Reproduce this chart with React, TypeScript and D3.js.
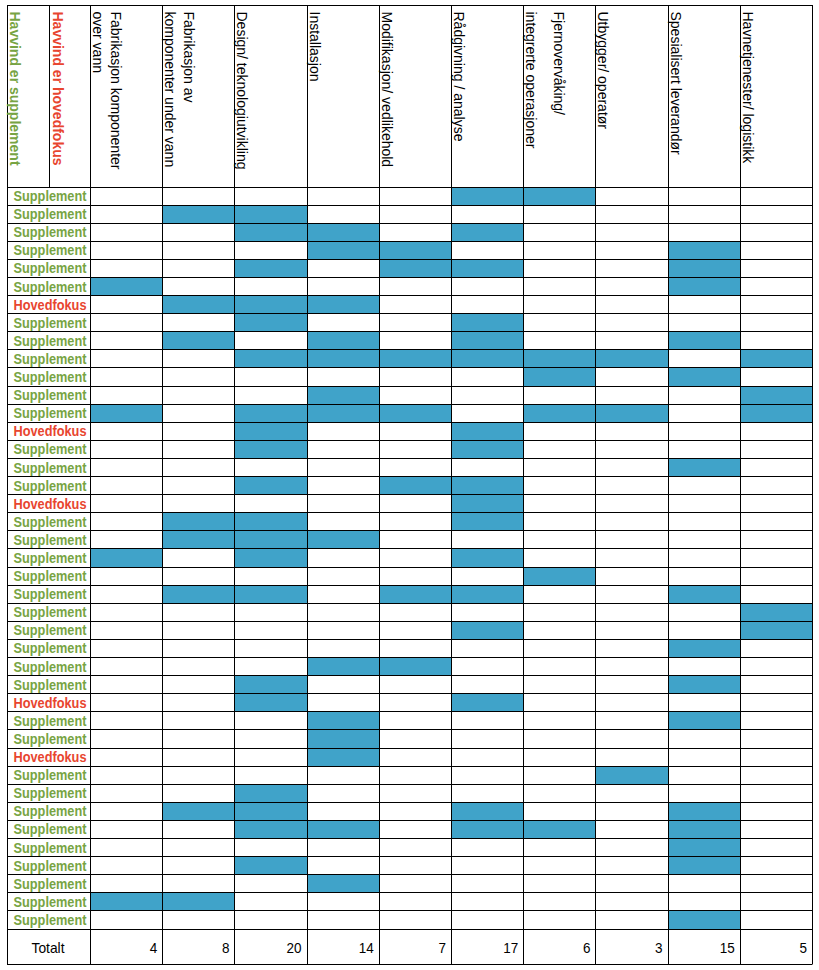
import React from "react";
import * as d3 from "d3";

const categories: string[][] = [
  ["Fabrikasjon komponenter", "over vann"],
  ["Fabrikasjon av", "komponenter under vann"],
  ["Design/ teknologiutvikling"],
  ["Installasjon"],
  ["Modifikasjon/ vedlikehold"],
  ["Rådgivning / analyse"],
  ["Fjernovervåking/", "integrerte operasjoner"],
  ["Utbygger/ operatør"],
  ["Spesialisert leverandør"],
  ["Havnetjenester/ logistikk"],
];

const legendSupplement = "Havvind er supplement";
const legendHovedfokus = "Havvind er hovedfokus";

// row focus: S = Supplement, H = Hovedfokus
const rowFocus: string[] = [
  "S", "S", "S", "S", "S", "S", "H", "S", "S", "S",
  "S", "S", "S", "H", "S", "S", "S", "H", "S", "S",
  "S", "S", "S", "S", "S", "S", "S", "S", "H", "S",
  "S", "H", "S", "S", "S", "S", "S", "S", "S", "S",
  "S",
];

// column indices marked for each respondent row
const rowCells: number[][] = [
  [5, 6],
  [1, 2],
  [2, 3, 5],
  [3, 4, 8],
  [2, 4, 5, 8],
  [0, 8],
  [1, 2, 3],
  [2, 5],
  [1, 3, 5, 8],
  [2, 3, 4, 5, 6, 7, 9],
  [6, 8],
  [3, 9],
  [0, 2, 3, 4, 6, 7, 9],
  [2, 5],
  [2, 5],
  [8],
  [2, 4, 5],
  [5],
  [1, 2, 5],
  [1, 2, 3],
  [0, 2, 5],
  [6],
  [1, 2, 4, 5, 8],
  [9],
  [5, 9],
  [8],
  [3, 4],
  [2, 8],
  [2, 5],
  [3, 8],
  [3],
  [3],
  [7],
  [2],
  [1, 2, 5, 8],
  [2, 3, 5, 6, 8],
  [8],
  [2, 8],
  [3],
  [0, 1],
  [8],
];

const totalLabel = "Totalt";
const supplementLabel = "Supplement";
const hovedfokusLabel = "Hovedfokus";

// layout
const W = 819;
const H = 970;
const left = 7;
const labelSplit = 49;
const gridLeft = 90.5;
const gridRight = 812.5;
const top = 5;
const headerBottom = 187;
const rowsBottom = 929;
const bottom = 964;
const firstLineOffset: Record<number, number> = { 0: 20.5, 1: 21, 6: 30.5 };

const GREEN = "#77a443";
const RED = "#e8452f";
const BLUE = "#40a3c9";
const arial = "'Liberation Sans', Arial, sans-serif";

export default function App() {
  const colIdx = d3.range(categories.length);
  const x = d3.scaleBand<number>().domain(colIdx).range([gridLeft, gridRight]).padding(0);
  const rowIdx = d3.range(rowFocus.length);
  const y = d3.scaleBand<number>().domain(rowIdx).range([headerBottom, rowsBottom]).padding(0);
  const totals = colIdx.map((c) => rowCells.filter((r) => r.includes(c)).length);

  const cr = (v: number) => Math.round(v - 0.5) + 0.5;

  const hLines: number[] = [top, headerBottom, ...rowIdx.map((r) => y(r)! + y.bandwidth()), bottom];
  const vLinesFull: number[] = [left, gridLeft, ...colIdx.map((c) => x(c)! + x.bandwidth())];

  return (
    <svg
      width={W}
      height={H}
      style={{ position: "absolute", left: 0, top: 0, background: "#fff" }}
    >
      <rect x={0} y={0} width={W} height={H} fill="#fff" />
      {/* filled cells */}
      {rowCells.map((cells, r) =>
        cells.map((c) => (
          <rect
            key={`c${r}-${c}`}
            x={x(c)!}
            y={y(r)!}
            width={x.bandwidth()}
            height={y.bandwidth()}
            fill={BLUE}
          />
        ))
      )}
      {/* grid lines */}
      {hLines.map((v, i) => (
        <line key={`h${i}`} x1={left} x2={gridRight} y1={cr(v)} y2={cr(v)} stroke="#000" strokeWidth={1} />
      ))}
      {vLinesFull.map((v, i) => (
        <line key={`v${i}`} x1={cr(v)} x2={cr(v)} y1={top} y2={bottom} stroke="#000" strokeWidth={1} />
      ))}
      <line x1={cr(labelSplit)} x2={cr(labelSplit)} y1={top} y2={headerBottom} stroke="#000" strokeWidth={1} />

      {/* legend headers */}
      <text
        transform={`translate(${left + 2.5},${top + 6.5}) rotate(90)`}
        fontFamily={arial}
        fontSize={14}
        fontWeight="bold"
        fill={GREEN}
      >
        {legendSupplement}
      </text>
      <text
        transform={`translate(${labelSplit + 3.5},${top + 6.5}) rotate(90)`}
        fontFamily={arial}
        fontSize={14}
        fontWeight="bold"
        fill={RED}
      >
        {legendHovedfokus}
      </text>

      {/* column headers */}
      {categories.map((lines, c) =>
        lines.map((ln, li) => {
          const isLast = li === lines.length - 1;
          const off = isLast ? 2.5 : firstLineOffset[c] ?? 21;
          return (
            <text
              key={`hd${c}-${li}`}
              transform={`translate(${x(c)! + off},${top + 6.5}) rotate(90)`}
              fontFamily={arial}
              fontSize={14}
              fill="#000"
            >
              {ln}
            </text>
          );
        })
      )}

      {/* row labels */}
      {rowFocus.map((f, r) => (
        <text
          key={`rl${r}`}
          x={13.5}
          y={y(r)! + y.bandwidth() / 2 + 5}
          textLength={73}
          lengthAdjust="spacingAndGlyphs"
          fontFamily={arial}
          fontSize={15}
          fontWeight="bold"
          fill={f === "H" ? RED : GREEN}
        >
          {f === "H" ? hovedfokusLabel : supplementLabel}
        </text>
      ))}

      {/* totals */}
      <text
        x={31.5}
        y={953}
        textLength={33}
        lengthAdjust="spacingAndGlyphs"
        fontFamily={arial}
        fontSize={15}
        fill="#000"
      >
        {totalLabel}
      </text>
      {totals.map((t, c) => (
        <text
          key={`t${c}`}
          x={x(c)! + x.bandwidth() - 5.5}
          y={953}
          textAnchor="end"
          fontFamily={arial}
          fontSize={15}
          fill="#000"
          transform={`translate(${x(c)! + x.bandwidth() - 5.5},0) scale(0.9,1) translate(${-(x(c)! + x.bandwidth() - 5.5)},0)`}
        >
          {t}
        </text>
      ))}
    </svg>
  );
}
